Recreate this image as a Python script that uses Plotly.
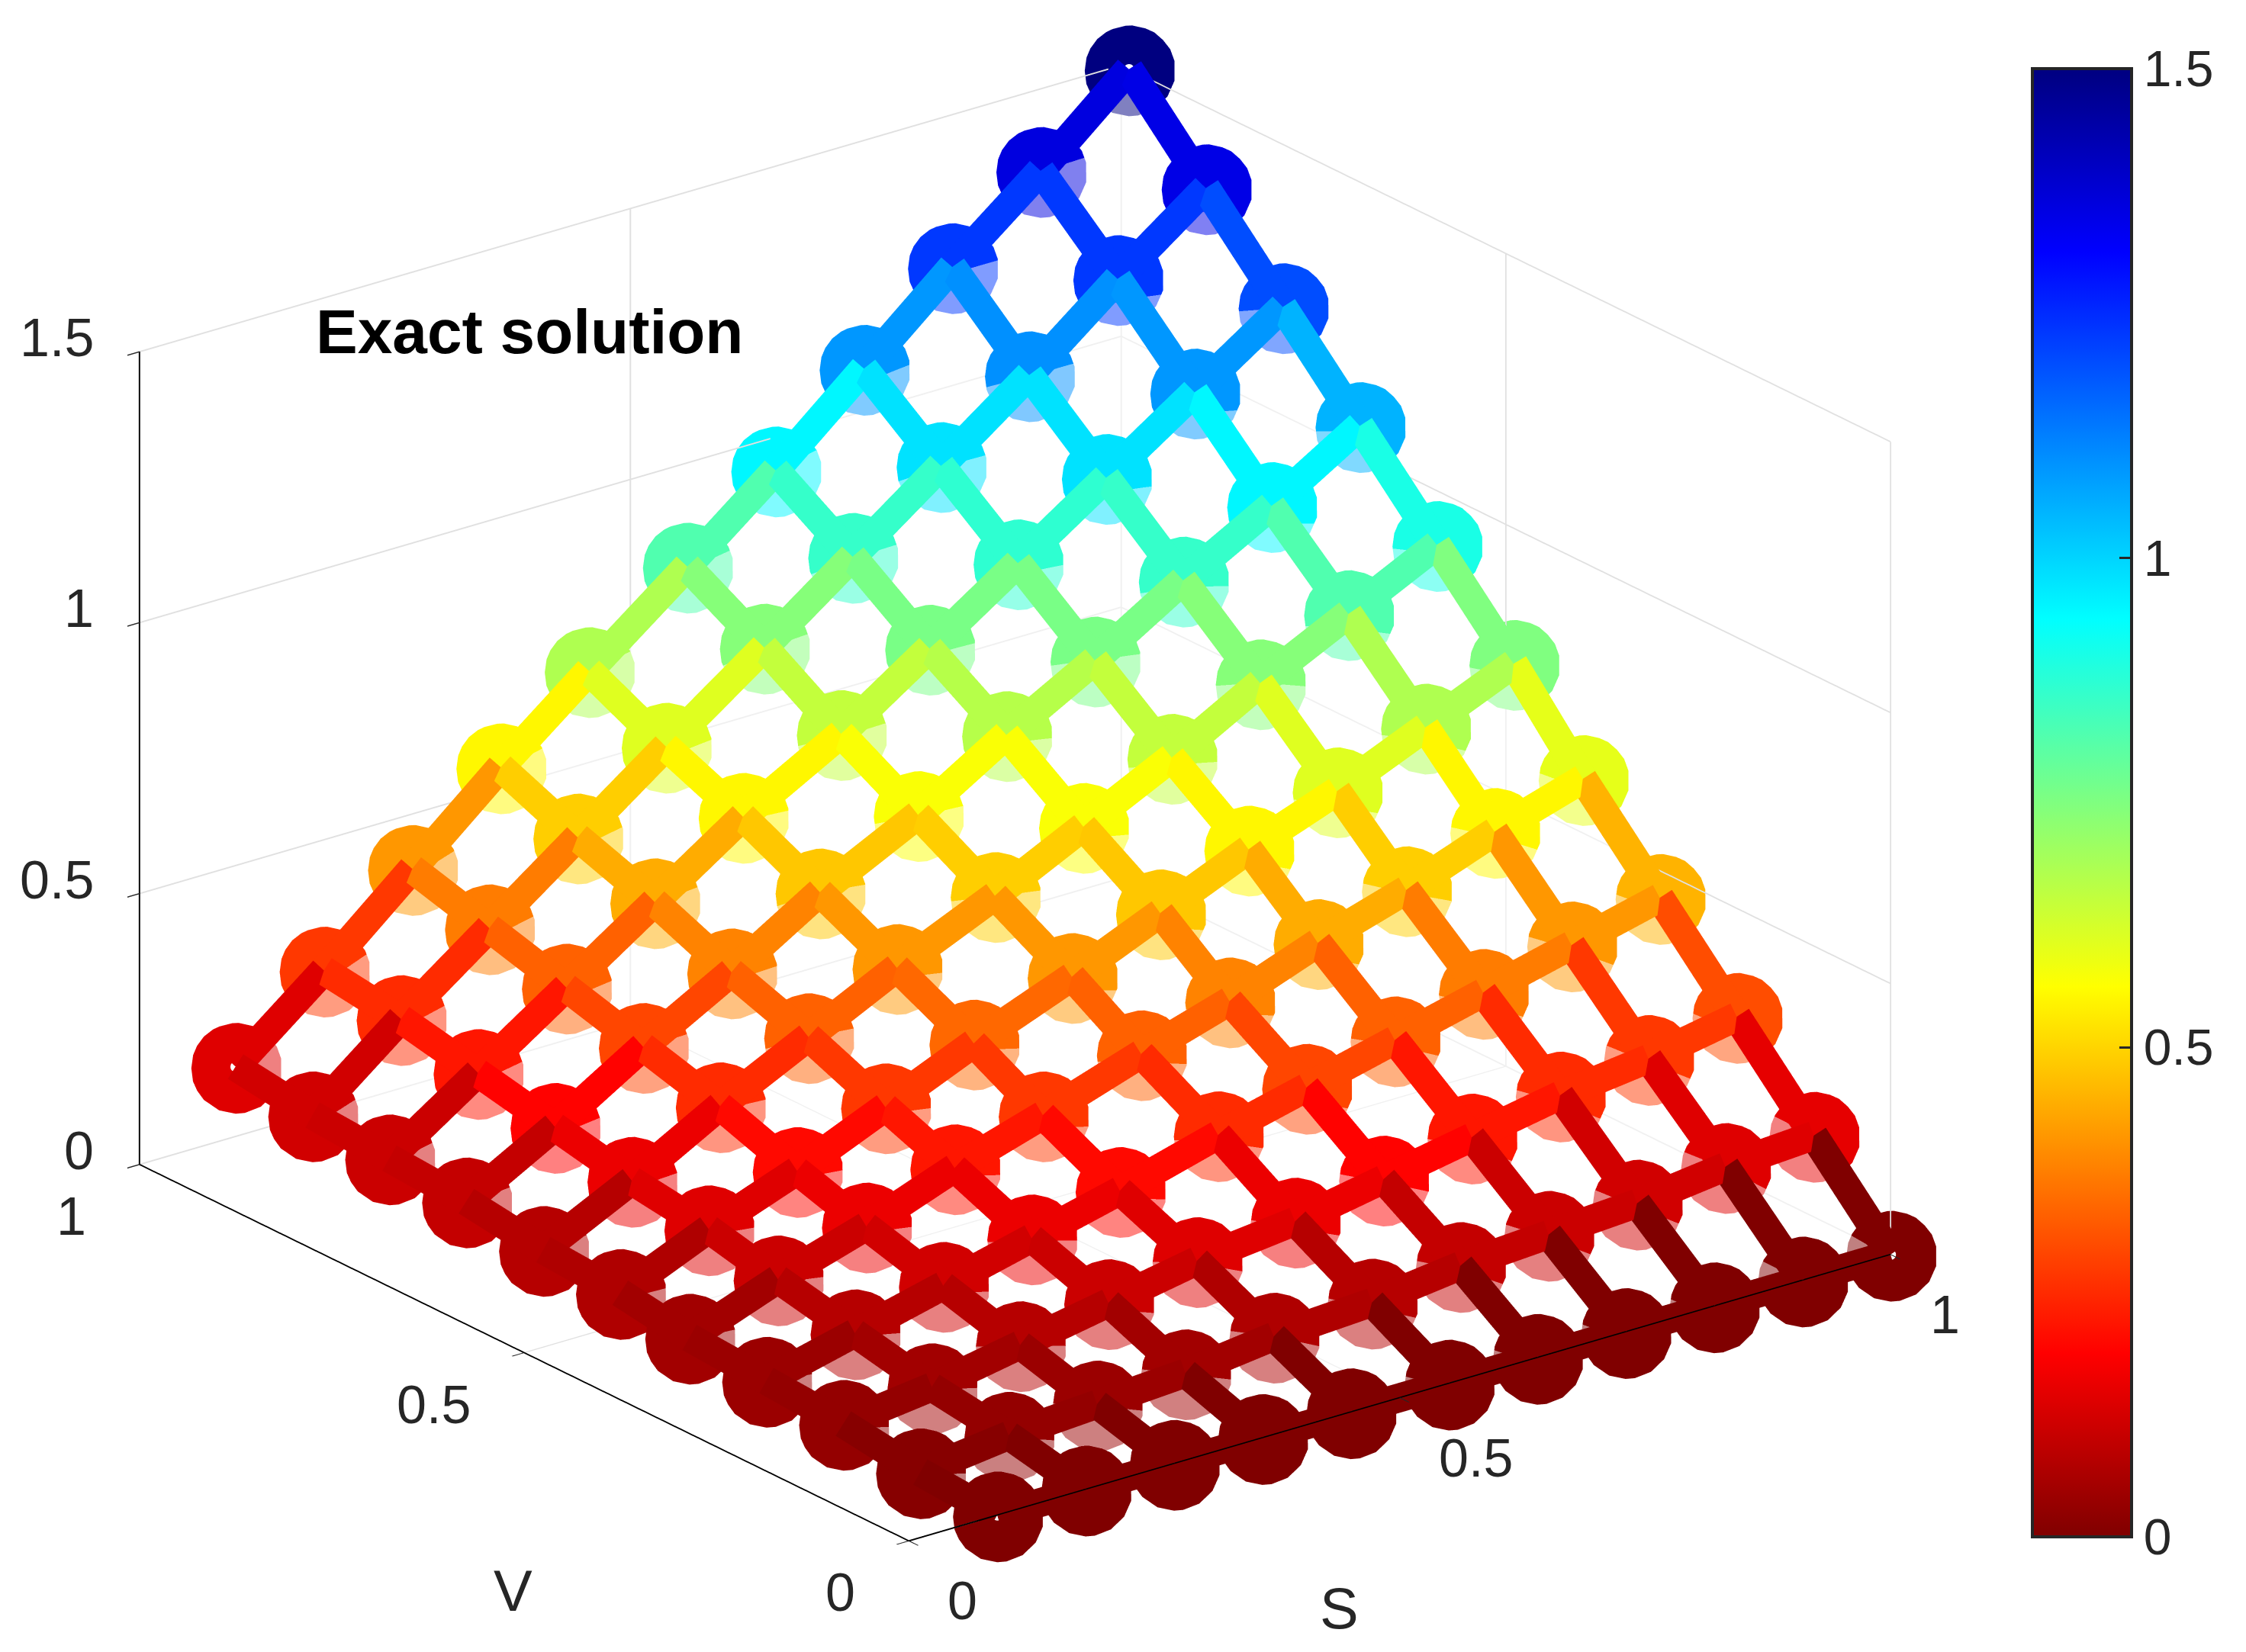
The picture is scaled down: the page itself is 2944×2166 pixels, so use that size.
import numpy as np
import plotly.graph_objects as go

# grid
s_vals = [0.09, 0.18, 0.27, 0.36, 0.45, 0.55, 0.64, 0.73, 0.82, 0.91, 1.0]
v_vals = [0.0, 0.1, 0.2, 0.3, 0.4, 0.49, 0.59, 0.69, 0.79, 0.89, 0.99]

# one row per V value, one column per S value
z_rows = [
    [0.00, 0.00, 0.00, 0.00, 0.00, 0.00, 0.00, 0.00, 0.00, 0.00, 0.00],
    [0.01, 0.03, 0.04, 0.05, 0.07, 0.08, 0.10, 0.11, 0.12, 0.14, 0.15],
    [0.03, 0.05, 0.08, 0.11, 0.14, 0.16, 0.19, 0.22, 0.25, 0.27, 0.30],
    [0.04, 0.08, 0.12, 0.16, 0.20, 0.25, 0.29, 0.33, 0.37, 0.41, 0.45],
    [0.05, 0.11, 0.16, 0.22, 0.27, 0.33, 0.38, 0.44, 0.49, 0.55, 0.60],
    [0.07, 0.14, 0.20, 0.27, 0.34, 0.41, 0.48, 0.55, 0.61, 0.68, 0.75],
    [0.08, 0.16, 0.25, 0.33, 0.41, 0.49, 0.57, 0.65, 0.74, 0.82, 0.90],
    [0.10, 0.19, 0.29, 0.38, 0.48, 0.57, 0.67, 0.76, 0.86, 0.95, 1.05],
    [0.11, 0.22, 0.33, 0.44, 0.55, 0.65, 0.76, 0.87, 0.98, 1.09, 1.20],
    [0.12, 0.25, 0.37, 0.49, 0.61, 0.74, 0.86, 0.98, 1.10, 1.23, 1.35],
    [0.14, 0.27, 0.41, 0.55, 0.68, 0.82, 0.95, 1.09, 1.23, 1.36, 1.50],
]

tick_vals_xy = [0, 0.5, 1]
tick_text_xy = ["0", "0.5", "1"]
tick_vals_z = [0, 0.5, 1, 1.5]
tick_text_z = ["0", "0.5", "1", "1.5"]

JET_R = [
    [0.0, "rgb(128,0,0)"], [0.125, "rgb(255,0,0)"], [0.375, "rgb(255,255,0)"],
    [0.625, "rgb(0,255,255)"], [0.875, "rgb(0,0,255)"], [1.0, "rgb(0,0,128)"],
]
TEXT = "#262626"
FONT = "Liberation Sans"

EYE = dict(x=-0.566, y=-0.733, z=0.378)
EYE_SCALE = 2.5
LINE_WIDTH = 76
MARKER_SIZE = 69


def mesh_segments():
    """One flat coloured piece per grid edge, coloured by its lower end"""
    xs, ys, zs, cs = [], [], [], []
    for j, v in enumerate(v_vals):
        for i, s in enumerate(s_vals):
            if i < len(s_vals) - 1:
                xs += [s, s_vals[i + 1], None]
                ys += [v, v, None]
                zs += [z_rows[j][i], z_rows[j][i + 1], None]
                cs += [z_rows[j][i]] * 3
            if j < len(v_vals) - 1:
                xs += [s, s, None]
                ys += [v, v_vals[j + 1], None]
                zs += [z_rows[j][i], z_rows[j + 1][i], None]
                cs += [z_rows[j][i]] * 3
    return xs, ys, zs, cs


def base_axis(rng, vals):
    # only the grid here, the box lines go with the mesh in the top scene
    return dict(
        range=rng, tickmode="array", tickvals=vals, showticklabels=False, ticks="",
        showline=False, showgrid=True, gridcolor="#e0e0e0", gridwidth=4,
        showbackground=False, zeroline=False, showspikes=False, title="",
    )


def top_axis(rng, vals):
    return dict(
        range=rng, tickmode="array", tickvals=vals, showticklabels=False,
        ticks="outside", ticklen=20, tickwidth=3, tickcolor=TEXT,
        showline=True, linecolor="black", linewidth=4, showgrid=False,
        showbackground=False, zeroline=False, showspikes=False, title="",
    )


def tick_note(x, y, z, text, anchor, dx, dy, size=70):
    return dict(x=x, y=y, z=z, text=text, showarrow=False, xanchor=anchor, yanchor="middle",
                xshift=dx, yshift=dy, font=dict(family=FONT, size=size, color=TEXT))


grid_x = [s for _ in v_vals for s in s_vals]
grid_y = [v for v in v_vals for _ in s_vals]
grid_z = [z for row in z_rows for z in row]

fig = go.Figure()

mx, my, mz, mc = mesh_segments()
fig.add_trace(go.Scatter3d(
    x=grid_x, y=grid_y, z=grid_z, mode="markers", scene="scene", showlegend=False,
    marker=dict(
        size=MARKER_SIZE, color=grid_z, colorscale=JET_R, cmin=0, cmax=1.5, opacity=1,
        colorbar=dict(
            x=2664 / 2944, xanchor="left", y=1 - (90 + 2015) / 2 / 2166, yanchor="middle",
            len=1925 / 2166, lenmode="fraction", thickness=130, thicknessmode="pixels",
            outlinecolor=TEXT, outlinewidth=4, tickmode="array", tickvals=tick_vals_z,
            ticktext=tick_text_z, ticks="inside", ticklen=18, tickwidth=3, tickcolor=TEXT,
            tickfont=dict(family=FONT, size=66, color=TEXT), xpad=0, ypad=0,
            tickprefix="\u2009",
        ),
    ),
))
# the open centres of the markers only show at the four corners
fig.add_trace(go.Scatter3d(
    x=[s_vals[0], s_vals[-1], s_vals[0], s_vals[-1]], y=[v_vals[0], v_vals[0], v_vals[-1], v_vals[-1]],
    z=[z_rows[0][0], z_rows[0][-1], z_rows[-1][0], z_rows[-1][-1]],
    mode="markers", scene="scene", showlegend=False, hoverinfo="skip",
    marker=dict(size=8, color="white", opacity=1),
))
# half see-through white faces, these wash out whatever sits behind them
fig.add_trace(go.Surface(
    x=s_vals, y=v_vals, z=z_rows, scene="scene", showscale=False, opacity=0.5, hoverinfo="skip",
    colorscale=[[0, "white"], [1, "white"]],
    lighting=dict(ambient=1, diffuse=0, specular=0, roughness=1, fresnel=0),
))
# mesh in a scene of its own on top, in one scene the faces cut through the thick lines
fig.add_trace(go.Scatter3d(
    x=mx, y=my, z=mz, mode="lines", scene="scene2", showlegend=False, hoverinfo="skip",
    line=dict(width=LINE_WIDTH, color=mc, colorscale=JET_R, cmin=0, cmax=1.5),
))

notes = []
for val, text in zip(tick_vals_xy, tick_text_xy):
    notes.append(tick_note(val, 0, 0, text, "left", 49, -79))
    notes.append(tick_note(0, val, 0, text, "right", -68, -68))
for val, text in zip(tick_vals_z, tick_text_z):
    notes.append(tick_note(0, 1, val, text, "right", -58, 18))
notes.append(tick_note(0.5, 0, 0, "S", "center", -79, -276, 76))
notes.append(tick_note(0, 0.5, 0, "V", "center", -15, -312, 76))

eye = {k: v * EYE_SCALE for k, v in EYE.items()}
scene_common = dict(
    domain=dict(x=[0, 0.904], y=[0.0277, 1]), aspectmode="manual",
    aspectratio=dict(x=1.544, y=1.567, z=1.093),
    camera=dict(eye=eye, up=dict(x=0, y=0, z=1), center=dict(x=0, y=0, z=0),
                projection=dict(type="orthographic")),
    bgcolor="rgba(0,0,0,0)",
)

fig.update_layout(
    width=2944, height=2166, margin=dict(l=0, r=0, t=0, b=0),
    paper_bgcolor="white", showlegend=False,
    scene=dict(
        xaxis=base_axis([0, 1], tick_vals_xy), yaxis=base_axis([0, 1], tick_vals_xy),
        zaxis=base_axis([0, 1.5], tick_vals_z), **scene_common,
    ),
    scene2=dict(
        xaxis=top_axis([0, 1], tick_vals_xy), yaxis=top_axis([0, 1], tick_vals_xy),
        zaxis=top_axis([0, 1.5], tick_vals_z), annotations=notes, **scene_common,
    ),
    annotations=[dict(
        x=412 / 2944, y=1 - 435 / 2166, xref="paper", yref="paper", text="<b>Exact solution</b>",
        showarrow=False, xanchor="left", yanchor="middle",
        font=dict(family=FONT, size=82, color="black"),
    )],
)

fig.write_html("out.html", config={"displayModeBar": False},
               post_script="document.body.style.margin='0';")
